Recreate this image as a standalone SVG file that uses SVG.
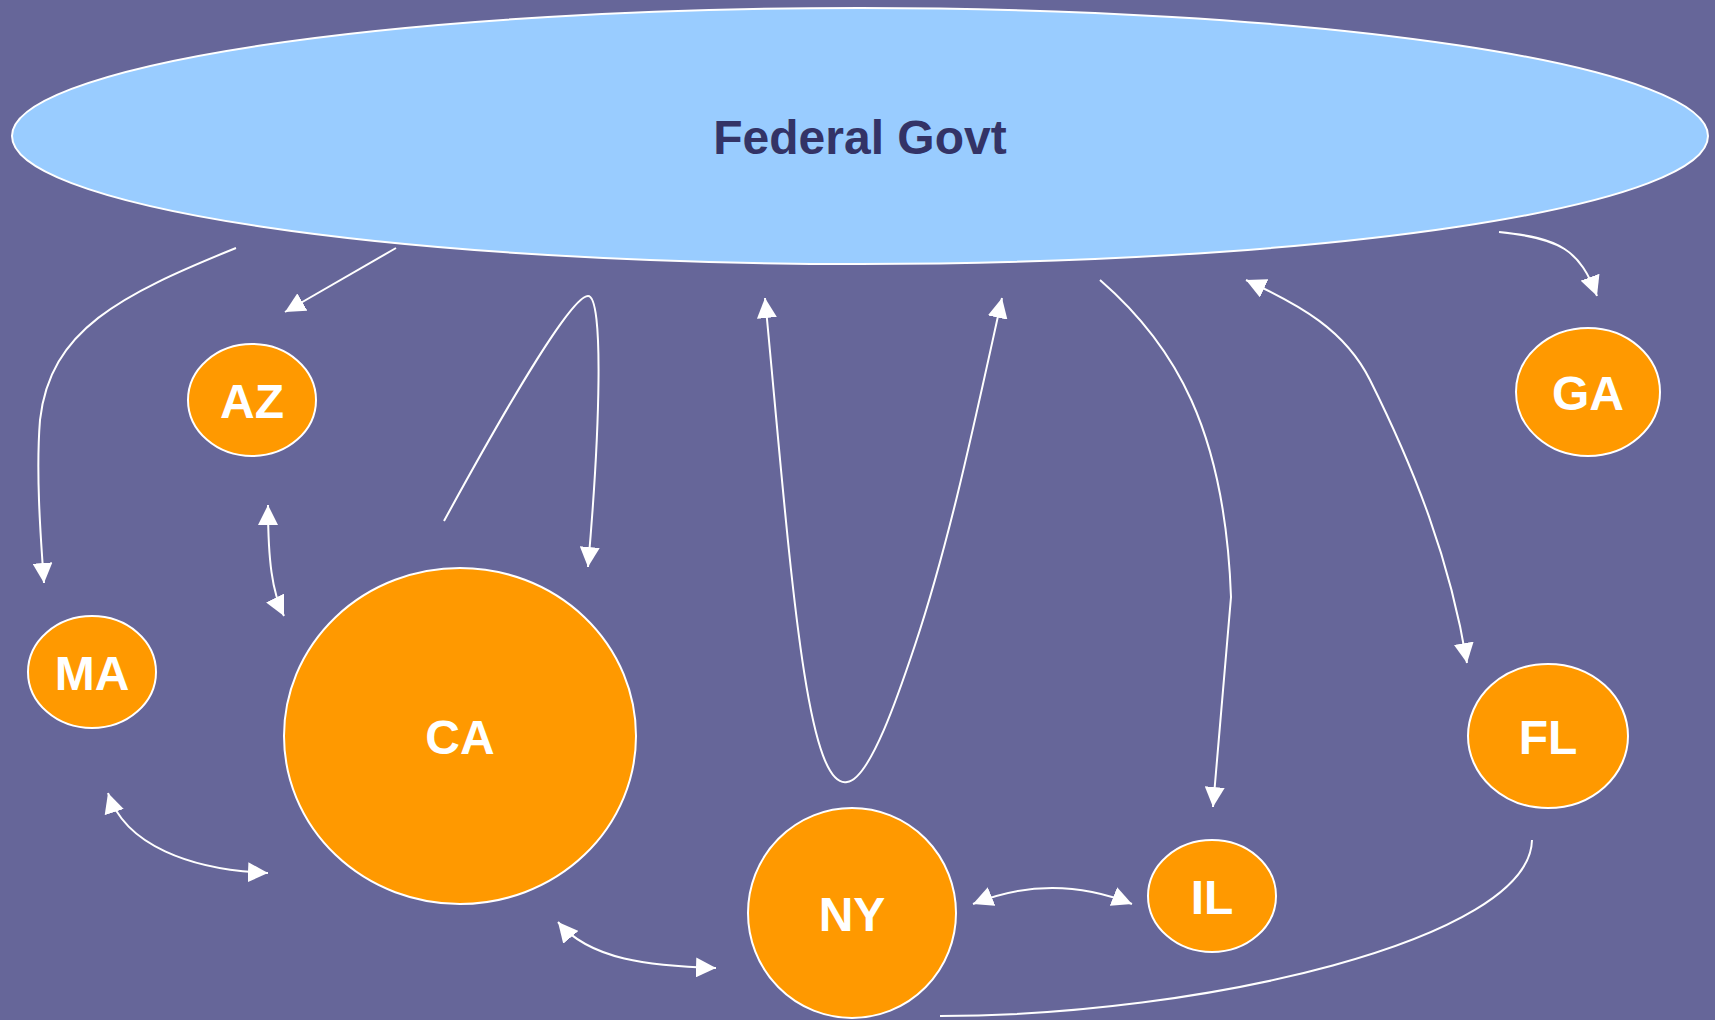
<svg xmlns="http://www.w3.org/2000/svg" width="1715" height="1020" viewBox="0 0 1715 1020">
<style>
.bg{fill:#666699}
.fed{fill:#99CCFF;stroke:#FFFFFF;stroke-width:2}
.st{fill:#FF9900;stroke:#FFFFFF;stroke-width:2}
.fedtxt{font-family:"Liberation Sans",Arial,sans-serif;font-weight:bold;font-size:48px;fill:#333366;text-anchor:middle}
.lbl{font-family:"Liberation Sans",Arial,sans-serif;font-weight:bold;font-size:48px;fill:#FFFFFF;text-anchor:middle}
.c{fill:none;stroke:#FFFFFF;stroke-width:2}
.a{marker-end:url(#ah)}
.b{marker-start:url(#ah);marker-end:url(#ah)}
</style>
<defs>
<marker id="ah" markerUnits="userSpaceOnUse" markerWidth="20" markerHeight="20" refX="20" refY="10" orient="auto-start-reverse" viewBox="0 0 20 20">
<path d="M0,0 L20,10 L0,20 z" fill="#FFFFFF"/>
</marker>
</defs>
<rect class="bg" x="0" y="0" width="1715" height="1020"/>
<g id="connectors">
<path class="c a" d="M236,248 C120,295 50,330 40,420 C36,470 40,530 44,583"/>
<path class="c a" d="M396,248 L285,312"/>
<path class="c a" d="M444,521 C510,400 572,296 588,296 C604,296 600,430 588,567"/>
<path class="c b" d="M268,505 C268,560 272,592 284,616"/>
<path class="c b" d="M108,793 C125,845 190,870 268,873"/>
<path class="c b" d="M558,922 C590,960 650,966 716,968"/>
<path class="c b" d="M765,298 C790,560 805,790 847,782 C870,780 900,690 915,645 C950,540 975,420 1002,298"/>
<path class="c a" d="M1100,280 C1175,345 1225,430 1231,597 L1213,807"/>
<path class="c b" d="M1246,280 C1300,305 1345,330 1370,380 C1415,470 1450,560 1467,663"/>
<path class="c a" d="M1499,232 C1560,238 1580,250 1597,296"/>
<path class="c" d="M1532,840 C1530,940 1200,1016 940,1016"/>
<path class="c b" d="M973,904 Q1052,872 1132,904"/>
</g>
<g id="fed">
<ellipse class="fed" cx="860" cy="136" rx="848" ry="128"/>
<text class="fedtxt" x="860" y="154">Federal Govt</text>
</g>
<g id="AZ">
<ellipse class="st" cx="252" cy="400" rx="64" ry="56"/>
<text class="lbl" x="252" y="418">AZ</text>
</g>
<g id="GA">
<ellipse class="st" cx="1588" cy="392" rx="72" ry="64"/>
<text class="lbl" x="1588" y="410">GA</text>
</g>
<g id="MA">
<ellipse class="st" cx="92" cy="672" rx="64" ry="56"/>
<text class="lbl" x="92" y="690">MA</text>
</g>
<g id="CA">
<ellipse class="st" cx="460" cy="736" rx="176" ry="168"/>
<text class="lbl" x="460" y="754">CA</text>
</g>
<g id="FL">
<ellipse class="st" cx="1548" cy="736" rx="80" ry="72"/>
<text class="lbl" x="1548" y="754">FL</text>
</g>
<g id="NY">
<ellipse class="st" cx="852" cy="913" rx="104" ry="105"/>
<text class="lbl" x="852" y="931">NY</text>
</g>
<g id="IL">
<ellipse class="st" cx="1212" cy="896" rx="64" ry="56"/>
<text class="lbl" x="1212" y="914">IL</text>
</g>
</svg>
